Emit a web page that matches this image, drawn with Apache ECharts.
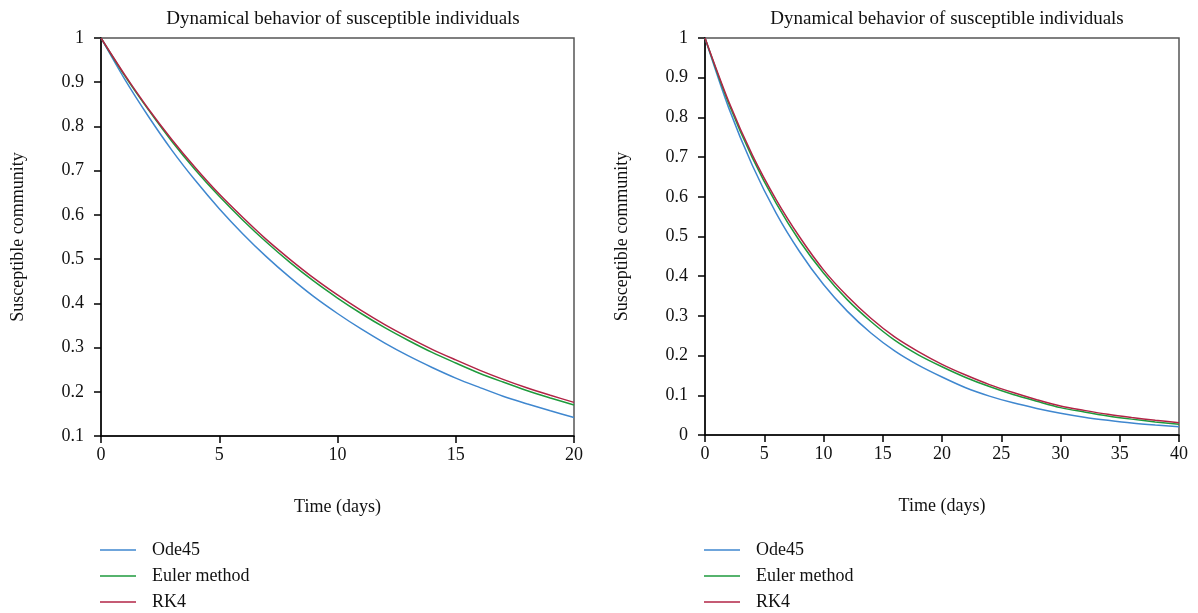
<!DOCTYPE html>
<html>
<head>
<meta charset="utf-8">
<script src="https://cdn.jsdelivr.net/npm/echarts@6/dist/echarts.min.js"></script>
<style>html,body{margin:0;padding:0;background:#fff;}#c{width:1198px;height:613px;}</style>
</head>
<body>
<div id="c"></div>
<script>
// Left chart: time 0..20 (step 1 day)
const timeLeft = [0,1,2,3,4,5,6,7,8,9,10,11,12,13,14,15,16,17,18,19,20];
const ode45Left = [1.000,0.907,0.823,0.746,0.677,0.614,0.557,0.505,0.458,0.415,0.377,0.342,0.310,0.281,0.255,0.231,0.210,0.190,0.173,0.157,0.142];
const eulerLeft = [1.000,0.915,0.838,0.766,0.701,0.642,0.588,0.538,0.492,0.450,0.412,0.377,0.345,0.316,0.289,0.265,0.242,0.222,0.203,0.186,0.170];
const rk4Left   = [1.000,0.917,0.840,0.770,0.706,0.647,0.594,0.544,0.499,0.457,0.419,0.384,0.352,0.323,0.296,0.272,0.249,0.228,0.209,0.192,0.176];

// Right chart: time 0..40 (step 2 days)
const timeRight = [0,2,4,6,8,10,12,14,16,18,20,22,24,26,28,30,32,34,36,38,40];
const ode45Right = [1.000,0.824,0.679,0.559,0.461,0.379,0.312,0.257,0.212,0.176,0.146,0.119,0.098,0.081,0.067,0.055,0.045,0.037,0.030,0.025,0.021];
const eulerRight = [1.000,0.835,0.698,0.584,0.488,0.408,0.341,0.286,0.239,0.202,0.172,0.145,0.122,0.102,0.085,0.069,0.058,0.048,0.040,0.033,0.027];
const rk4Right   = [1.000,0.840,0.705,0.593,0.498,0.416,0.350,0.294,0.247,0.210,0.178,0.151,0.127,0.107,0.089,0.073,0.062,0.052,0.044,0.037,0.031];

const seriesNames = ['Ode45','Euler method','RK4'];
const colors = ['#3f87cf','#1e9a3c','#b22446'];
const titleText = 'Dynamical behavior of susceptible individuals';
const xName = 'Time (days)';
const yName = 'Susceptible community';

const FONT = 'Liberation Serif';
const FS = 18;
const pairs = (t, v) => t.map((x, i) => [x, v[i]]);

function xAxisCfg(idx, max) {
  return {
    type: 'value', gridIndex: idx, min: 0, max: max, interval: 5,
    name: xName, nameLocation: 'middle', nameGap: 62,
    nameTextStyle: {fontFamily: FONT, fontSize: FS, color: '#111'},
    axisLine: {show: true, lineStyle: {color: '#000', width: 1.5}},
    axisTick: {show: true, inside: false, length: 7, lineStyle: {color: '#000', width: 1.5}},
    axisLabel: {fontFamily: FONT, fontSize: FS, color: '#111', margin: 10},
    splitLine: {show: false}
  };
}
function yAxisCfg(idx, min) {
  return {
    type: 'value', gridIndex: idx, min: min, max: 1, interval: 0.1,
    name: yName, nameLocation: 'middle', nameGap: 74, nameRotate: 90,
    nameTextStyle: {fontFamily: FONT, fontSize: FS, color: '#111'},
    axisLine: {show: true, lineStyle: {color: '#000', width: 1.5}},
    axisTick: {show: true, inside: false, length: 7, lineStyle: {color: '#000', width: 1.5}},
    axisLabel: {fontFamily: FONT, fontSize: FS, color: '#111', margin: 17,
      formatter: v => String(+v.toFixed(1))},
    splitLine: {show: false}
  };
}
function lineSeries(name, data, xi, color) {
  return {
    type: 'line', name: name, xAxisIndex: xi, yAxisIndex: xi,
    data: data, showSymbol: false, smooth: 0.3,
    lineStyle: {color: color, width: 1.5}, itemStyle: {color: color}
  };
}
function legendCfg(left) {
  return {orient: 'vertical', left: left, top: 541, padding: 0, itemGap: 8,
    itemWidth: 36, itemHeight: 1.5, icon: 'rect', height: 80,
    data: seriesNames,
    textStyle: {fontFamily: FONT, fontSize: FS, color: '#111', padding: [0,0,0,11]}};
}

const chart = echarts.init(document.getElementById('c'), null, {renderer: 'canvas'});
chart.setOption({
  backgroundColor: '#fff',
  animation: false,
  title: [
    {text: titleText, left: 338, top: 5, textAlign: 'center',
     textStyle: {fontFamily: FONT, fontSize: 19, fontWeight: 'normal', color: '#111'}},
    {text: titleText, left: 942, top: 5, textAlign: 'center',
     textStyle: {fontFamily: FONT, fontSize: 19, fontWeight: 'normal', color: '#111'}}
  ],
  grid: [
    {left: 101, right: 624, top: 38, bottom: 177, show: true, borderColor: '#555', borderWidth: 1.5, backgroundColor: 'transparent'},
    {left: 705, right: 19, top: 38, bottom: 178, show: true, borderColor: '#555', borderWidth: 1.5, backgroundColor: 'transparent'}
  ],
  legend: [legendCfg(100), legendCfg(704)],
  xAxis: [xAxisCfg(0, 20), xAxisCfg(1, 40)],
  yAxis: [yAxisCfg(0, 0.1), yAxisCfg(1, 0)],
  series: [
    lineSeries(seriesNames[0], pairs(timeLeft, ode45Left), 0, colors[0]),
    lineSeries(seriesNames[1], pairs(timeLeft, eulerLeft), 0, colors[1]),
    lineSeries(seriesNames[2], pairs(timeLeft, rk4Left), 0, colors[2]),
    lineSeries(seriesNames[0], pairs(timeRight, ode45Right), 1, colors[0]),
    lineSeries(seriesNames[1], pairs(timeRight, eulerRight), 1, colors[1]),
    lineSeries(seriesNames[2], pairs(timeRight, rk4Right), 1, colors[2])
  ]
});
</script>
</body>
</html>
